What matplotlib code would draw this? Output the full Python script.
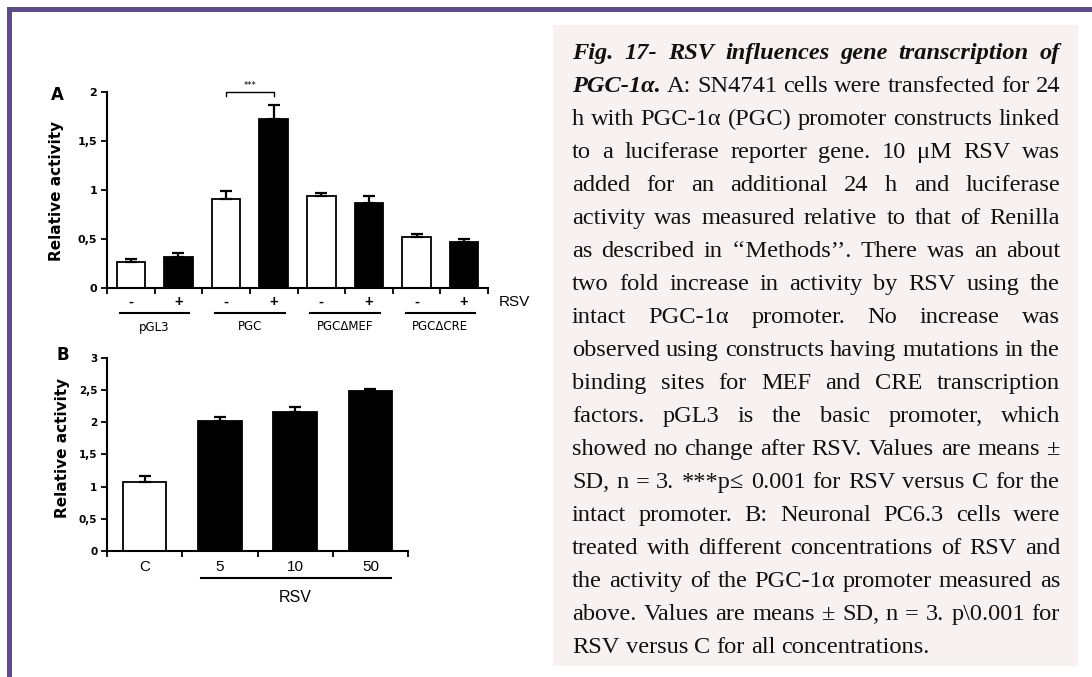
import matplotlib
matplotlib.use('Agg')
import matplotlib.pyplot as plt
import matplotlib.transforms as mtransforms
from matplotlib.patches import Rectangle
from matplotlib.font_manager import FontProperties
import numpy as np

W, H = 1092, 677

# panel A data
a_groups = ['pGL3', 'PGC', 'PGC\u0394MEF', 'PGC\u0394CRE']
a_rsv = ['-', '+']
a_minus = [0.27, 0.91, 0.94, 0.52]
a_minus_err = [0.03, 0.08, 0.03, 0.03]
a_plus = [0.32, 1.73, 0.87, 0.47]
a_plus_err = [0.04, 0.14, 0.07, 0.03]
a_yticks = [0, 0.5, 1, 1.5, 2]
a_yticklabels = ['0', '0,5', '1', '1,5', '2']

# panel B data
b_labels = ['C', '5', '10', '50']
b_vals = [1.07, 2.02, 2.15, 2.48]
b_err = [0.09, 0.06, 0.08, 0.03]
b_yticks = [0, 0.5, 1, 1.5, 2, 2.5, 3]
b_yticklabels = ['0', '0,5', '1', '1,5', '2', '2,5', '3']

caption = [
    "Fig. 17- RSV influences gene transcription of",
    "PGC-1\u03b1. A: SN4741 cells were transfected for 24",
    "h with PGC-1\u03b1 (PGC) promoter constructs linked",
    "to a luciferase reporter gene. 10 \u03bcM RSV was",
    "added for an additional 24 h and luciferase",
    "activity was measured relative to that of Renilla",
    "as described in \u2018\u2018Methods\u2019\u2019. There was an about",
    "two fold increase in activity by RSV using the",
    "intact PGC-1\u03b1 promoter. No increase was",
    "observed using constructs having mutations in the",
    "binding sites for MEF and CRE transcription",
    "factors. pGL3 is the basic promoter, which",
    "showed no change after RSV. Values are means \u00b1",
    "SD, n = 3. ***p\u2264 0.001 for RSV versus C for the",
    "intact promoter. B: Neuronal PC6.3 cells were",
    "treated with different concentrations of RSV and",
    "the activity of the PGC-1\u03b1 promoter measured as",
    "above. Values are means \u00b1 SD, n = 3. p\\0.001 for",
    "RSV versus C for all concentrations.",
]
bold_words = {0: 7, 1: 1}

fig = plt.figure(figsize=(W / 100, H / 100), dpi=100)
fig.patch.set_facecolor('white')


def px_axes(l, t, r, b):
    return fig.add_axes([l / W, 1 - b / H, (r - l) / W, (b - t) / H])


def style_axes(ax):
    for s in ['top', 'right']:
        ax.spines[s].set_visible(False)
    for s in ['left', 'bottom']:
        ax.spines[s].set_linewidth(1.5)
    ax.tick_params(axis='both', direction='out', length=4, width=1.3, pad=3)


# frame and caption box
fig.patches.append(Rectangle((7 / W, 1 - 12 / H), (W - 7) / W, 5 / H, transform=fig.transFigure,
                             facecolor='#5e4b87', edgecolor='none'))
fig.patches.append(Rectangle((7 / W, 0), 5 / W, 1 - 7 / H, transform=fig.transFigure,
                             facecolor='#5e4b87', edgecolor='none'))
fig.patches.append(Rectangle((553 / W, 1 - 666 / H), (1078 - 553) / W, (666 - 25) / H,
                             transform=fig.transFigure, facecolor='#f7f1f1', edgecolor='none'))

# ---------- panel A ----------
axA = px_axes(107, 92.3, 488, 288.3)
xa = np.arange(8)
vals = [v for pair in zip(a_minus, a_plus) for v in pair]
errs = [e for pair in zip(a_minus_err, a_plus_err) for e in pair]
cols = ['white', 'black'] * 4
axA.bar(xa, vals, width=0.6, color=cols, edgecolor='black', linewidth=1.3, zorder=2)
axA.errorbar(xa, vals, yerr=[np.zeros(8), errs], fmt='none', ecolor='black',
             elinewidth=1.6, capsize=4, capthick=1.6, zorder=3)
axA.set_xlim(-0.5, 7.5)
axA.set_ylim(0, 2)
axA.set_xticks(np.arange(-0.5, 8, 1))
axA.set_xticklabels([])
axA.set_yticks(a_yticks)
axA.set_yticklabels(a_yticklabels, fontweight='bold', fontsize=8)
style_axes(axA)

tA = mtransforms.blended_transform_factory(axA.transData, mtransforms.IdentityTransform())
for i, x in enumerate(xa):
    axA.text(x, H - 302, a_rsv[i % 2], transform=tA, ha='center', va='center',
             fontsize=10.5, fontweight='bold', family='Liberation Sans')
axA.text(7.72, H - 302, 'RSV', transform=tA, ha='left', va='center', fontsize=11,
         family='Liberation Sans')
for g, name in enumerate(a_groups):
    c = 2 * g + 0.5
    axA.plot([c - 0.73, c + 0.73], [H - 312.5, H - 312.5], transform=tA, color='black',
             lw=1.5, clip_on=False)
    axA.text(c, H - 327, name, transform=tA, ha='center', va='center', fontsize=8.5)

# significance bracket
axA.plot([2, 2, 3, 3], [1.96, 2.0, 2.0, 1.96], color='black', lw=1.0, clip_on=False)
axA.text(2.5, 2.02, '***', ha='center', va='bottom', fontsize=6, clip_on=False)

fig.text(57 / W, 1 - 95 / H, 'A', ha='center', va='center', fontsize=12, fontweight='bold')
fig.text(57 / W, 1 - 191 / H, 'Relative activity', rotation=90, ha='center', va='center',
         fontsize=11, fontweight='bold')

# ---------- panel B ----------
axB = px_axes(107, 357.7, 408, 551)
xb = np.arange(4)
axB.bar(xb, b_vals, width=0.58, color=['white', 'black', 'black', 'black'],
        edgecolor='black', linewidth=1.3, zorder=2)
axB.errorbar(xb, b_vals, yerr=[np.zeros(4), b_err], fmt='none', ecolor='black',
             elinewidth=1.6, capsize=4, capthick=1.6, zorder=3)
axB.set_xlim(-0.5, 3.5)
axB.set_ylim(0, 3)
axB.set_xticks(np.arange(-0.5, 4, 1))
axB.set_xticklabels([])
axB.set_yticks(b_yticks)
axB.set_yticklabels(b_yticklabels, fontweight='bold', fontsize=7.5)
style_axes(axB)

tB = mtransforms.blended_transform_factory(axB.transData, mtransforms.IdentityTransform())
for x, lab in zip(xb, b_labels):
    axB.text(x, H - 567, lab, transform=tB, ha='center', va='center', fontsize=11,
             family='Liberation Sans')
axB.plot([0.75, 3.27], [H - 578, H - 578], transform=tB, color='black', lw=1.5, clip_on=False)
axB.text(2.0, H - 597, 'RSV', transform=tB, ha='center', va='center', fontsize=11.5,
         family='Liberation Sans')

fig.text(63 / W, 1 - 355 / H, 'B', ha='center', va='center', fontsize=12, fontweight='bold')
fig.text(62 / W, 1 - 448 / H, 'Relative activity', rotation=90, ha='center', va='center',
         fontsize=11, fontweight='bold')

# ---------- caption (justified) ----------
renderer = fig.canvas.get_renderer()
text_left, text_right = 572, 1060
line0, line_gap = 59, 33


def props(size, bold):
    if bold:
        return FontProperties(family='Liberation Serif', size=size, style='italic', weight='bold')
    return FontProperties(family='Liberation Serif', size=size)


def measure(words, nb, size):
    ws = []
    for k, w in enumerate(words):
        ws.append(renderer.get_text_width_height_descent(w, props(size, k < nb), ismath=False)[0])
    return ws


natural = []
for i, line in enumerate(caption[:-1]):
    words = line.split(' ')
    ws = measure(words, bold_words.get(i, 0), 10)
    sp = renderer.get_text_width_height_descent(' ', props(10, False), ismath=False)[0]
    natural.append(sum(ws) + sp * (len(words) - 1))
fs = 10 * (text_right - text_left) / max(natural)

for i, line in enumerate(caption):
    words = line.split(' ')
    nb = bold_words.get(i, 0)
    ws = measure(words, nb, fs)
    if i == len(caption) - 1:
        gap = renderer.get_text_width_height_descent(' ', props(fs, False), ismath=False)[0]
    else:
        gap = (text_right - text_left - sum(ws)) / (len(words) - 1)
    x = text_left
    y = line0 + line_gap * i
    for k, w in enumerate(words):
        fig.text(x / W, 1 - y / H, w, fontproperties=props(fs, k < nb), ha='left',
                 va='baseline', color='#111111')
        x += ws[k] + gap

fig.savefig('out.png', dpi=100)
